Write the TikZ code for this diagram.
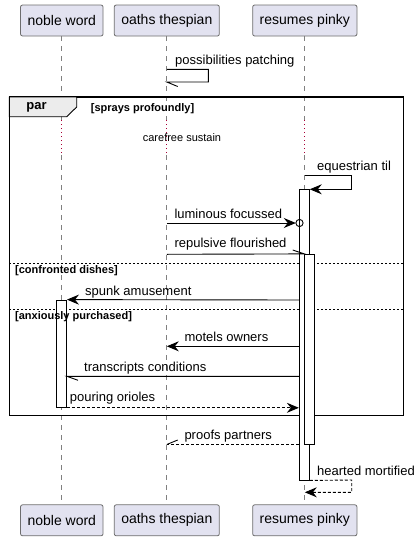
\documentclass[tikz,border=0pt]{standalone}
\usepackage{fontspec}
\setmainfont{Liberation Sans}
\usepackage{tikz}
\usetikzlibrary{arrows.meta,positioning}
\definecolor{partfill}{RGB}{226,226,240}
\definecolor{partline}{RGB}{110,110,110}
\definecolor{delayred}{RGB}{168,0,54}
\tikzstyle{part} = [draw=partline, fill=partfill, rounded corners=2pt, inner xsep=7pt, minimum height=31pt, line width=0.8pt, font=\fontsize{14}{16}\selectfont]
\tikzstyle{act} = [draw, fill=white, minimum width=10pt, inner sep=0pt, line width=0.9pt]
\tikzstyle{msg} = [line width=0.9pt, -{Stealth[length=12pt,width=10pt,inset=4pt]}]
\tikzstyle{lbl} = [anchor=west, inner sep=0pt, font=\fontsize{13}{15}\selectfont]
\tikzstyle{grp} = [anchor=west, inner sep=0pt, font=\bfseries\fontsize{11}{13}\selectfont]
\tikzstyle{life} = [draw=gray, line width=0.7pt, dash pattern=on 5pt off 5pt]

\begin{document}
\begin{tikzpicture}[x=1pt,y=-1pt]
	\fill[white] (0,0) rectangle (418,541);
	\useasboundingbox (0,0) rectangle (418,541);
	% participants
	\node[part] (nw) at (61.8,20.5) {noble word};
	\node[part] (ot) at (166.8,20.5) {oaths thespian};
	\node[part] (rp) at (304.8,20.5) {resumes pinky};
	\node[part] (nwb) at (61.8,520.3) {noble word};
	\node[part] (otb) at (166.8,520.3) {oaths thespian};
	\node[part] (rpb) at (304.8,520.3) {resumes pinky};
	\foreach \t/\b in {nw/nwb,ot/otb,rp/rpb} {
		\draw[life] (\t.south) -- (\t |- 0,120);
		\draw[delayred, line width=0.7pt, dash pattern=on 1pt off 3pt] (\t |- 0,120) -- (\t |- 0,155);
		\draw[life] (\t |- 0,155) -- (\b.north);
	}
	% par frame
	\draw[line width=1.6pt] (9.3,97) rectangle (403.3,415.3);
	\draw[fill=gray!15, line width=0.9pt] (9.3,97) -- (76.7,97) -- (76.7,107) -- (66.7,116.7) -- (9.3,116.7) -- cycle;
	\node[font=\bfseries\fontsize{13}{15}\selectfont] (par) at (36.5,107.5) {par};
	\draw[line width=0.7pt, dash pattern=on 2pt off 2pt] (9.3,263.3) -- (403.3,263.3);
	\draw[line width=0.7pt, dash pattern=on 2pt off 2pt] (9.3,309.3) -- (403.3,309.3);
	\node[font=\fontsize{11}{13}\selectfont] (delay) at (182,137.7) {carefree sustain};
	% activations
	\node[act, minimum height=291pt] (a1) at (304.3,334.5) {};
	\node[act, minimum height=189.7pt] (a2) at (a1.east |- 0,349.2) {};
	\node[act, minimum height=107.3pt] (a3) at (61.5,353.7) {};
	\node[grp] (g1) at (90.7,109) {[sprays profoundly]};
	\node[grp] (g2) at (15,270.7) {[confronted dishes]};
	\node[grp] (g3) at (15,316.7) {[anxiously purchased]};
	% messages
	\draw[line width=0.9pt] (ot |- 0,69.3) -- (208.3,69.3) -- (208.3,82) -- (ot |- 0,82) -- (177.7,86.5);
	\node[lbl] at (175,61) {possibilities patching};
	\draw[msg] (rp |- 0,175) -- (351.7,175) -- (351.7,189.3) -- (a1.east |- 0,189.3);
	\node[lbl] at (317,166.7) {equestrian til};
	\draw[msg] (ot |- 0,223) -- (295.8,223);
	\draw[line width=0.9pt] (299.5,223) circle (3.6pt);
	\node[lbl] at (174.3,214.3) {luminous focussed};
	\draw[line width=0.9pt] (ot |- 0,254.3) -- (a2.north west) -- (292.7,250);
	\node[lbl] at (174.3,244.3) {repulsive flourished};
	\draw[msg] (a1.west |- 0,300) -- (a3.north east);
	\node[lbl] at (85,291.7) {spunk amusement};
	\draw[msg] (a1.west |- 0,346.3) -- (ot |- 0,346.3);
	\node[lbl] at (184.3,337.3) {motels owners};
	\draw[line width=0.9pt] (a1.west |- 0,376.3) -- (a3.east |- 0,376.3) -- (78,380.3);
	\node[lbl] at (84,367.7) {transcripts conditions};
	\draw[msg, dash pattern=on 3pt off 2pt] (a3.south east) -- (a1.west |- a3.south east);
	\node[lbl] at (69.7,397.7) {pouring orioles};
	\draw[line width=0.9pt, dash pattern=on 3pt off 2pt] (a1.west |- a2.south) -- (ot |- a2.south);
	\draw[line width=0.9pt] (ot |- a2.south) -- (177.7,440);
	\node[lbl] at (184.3,435.7) {proofs partners};
	\draw[msg, dash pattern=on 3pt off 2pt] (a1.south east) -- (351.7,480) -- (351.7,492.3) -- (rp |- 0,492.3);
	\node[lbl] at (317,470.7) {hearted mortified};
\end{tikzpicture}
\end{document}
